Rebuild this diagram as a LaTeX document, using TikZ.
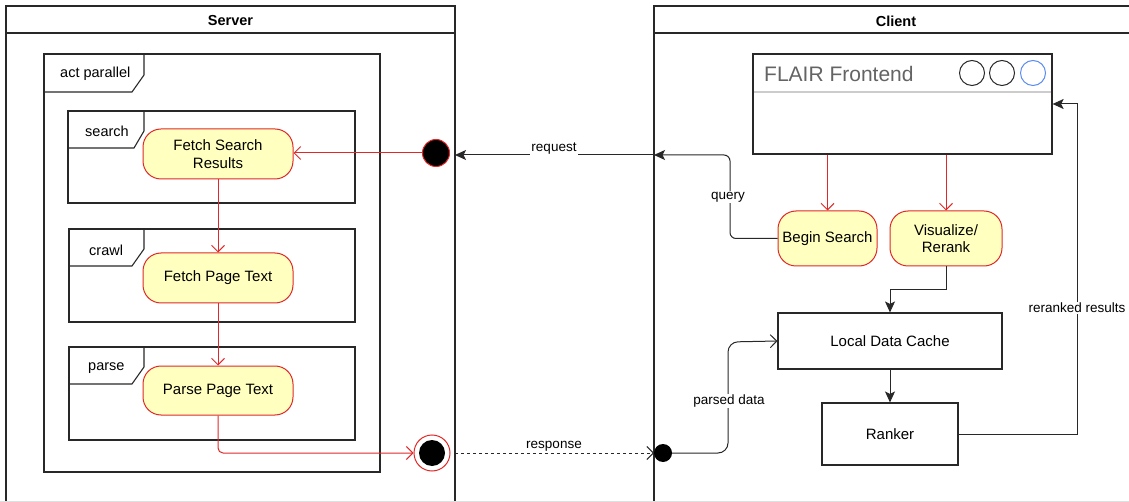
\documentclass[tikz,border=0pt]{standalone}
\usepackage{fontspec}
\setmainfont{Liberation Sans}
\usetikzlibrary{arrows.meta}
\definecolor{actred}{RGB}{224,40,40}
\definecolor{actfill}{RGB}{255,255,192}
\definecolor{linegray}{RGB}{40,40,40}
\definecolor{wingray}{RGB}{100,100,100}
\definecolor{winblue}{RGB}{90,140,240}
\tikzset{
  pool/.style={draw=linegray, line width=1.2pt},
  frame/.style={draw=linegray, line width=1.1pt},
  action/.style={draw=actred, fill=actfill, line width=1pt, rounded corners=18pt, align=center, font=\fontsize{15}{17.5}\selectfont, inner sep=0pt},
  box/.style={draw=linegray, line width=1.1pt, font=\fontsize{15}{17}\selectfont, inner sep=0pt},
  lbl/.style={font=\fontsize{13.5}{15}\selectfont, fill=white, inner sep=1pt},
  tablbl/.style={font=\fontsize{14.5}{16}\selectfont, anchor=west, inner sep=0pt},
  redflow/.style={draw=actred, line width=1pt, -{Straight Barb[length=6.5pt,width=13pt]}},
  openflow/.style={draw=linegray, line width=1pt, -{Straight Barb[length=6.5pt,width=13pt]}},
  solidflow/.style={draw=linegray, line width=1pt, -{Stealth[length=11pt,width=10pt,inset=2.5pt]}},
}
\begin{document}
\begin{tikzpicture}[x=1pt,y=-1pt]
\useasboundingbox (0,0) rectangle (1129,502);
\fill[white] (0,0) rectangle (1129,502);
% pools
\draw[pool] (6,505) -- (6,6) -- (455,6) -- (455,505);
\draw[pool] (6,33) -- (455,33);
\node[font=\bfseries\fontsize{14.5}{16}\selectfont] (srvT) at (230.5,21) {Server};
\draw[pool] (654,505) -- (654,6) -- (1135,6);
\draw[pool] (654,33) -- (1135,33);
\node[font=\bfseries\fontsize{14.5}{16}\selectfont] (cliT) at (896,21) {Client};
\draw[gray!25, line width=0.8pt] (0,501.5) -- (1129,501.5);
% act parallel frame
\draw[frame] (44,54) rectangle (380,472);
\draw[frame] (144,54) -- (144,75) -- (132,92) -- (44,92);
\node[tablbl] (tact) at (60,74) {act parallel};
% search frame
\draw[frame] (68,111) rectangle (355,203);
\draw[frame] (144,111) -- (144,131) -- (134,148) -- (68,148);
\node[tablbl] (tsearch) at (85,131) {search};
% crawl frame
\draw[frame] (69,229) rectangle (355,322);
\draw[frame] (144,229) -- (144,249) -- (132,266) -- (69,266);
\node[tablbl] (tcrawl) at (89,250) {crawl};
% parse frame
\draw[frame] (69,347) rectangle (355,440);
\draw[frame] (144,347) -- (144,367) -- (132,384) -- (69,384);
\node[tablbl] (tparse) at (88,368) {parse};
% actions
\node[action, minimum width=150pt, minimum height=50pt] (fsr) at (218,154) {Fetch Search\\Results};
\node[action, minimum width=150pt, minimum height=50pt] (fpt) at (218,278) {Fetch Page Text};
\node[action, minimum width=150pt, minimum height=49pt] (ppt) at (218,390.5) {Parse Page Text};
% start / end
\node[circle, draw=actred, fill=black, line width=1pt, minimum size=27pt, inner sep=0pt] (start) at (436,153) {};
\node[circle, draw=actred, fill=white, line width=1pt, minimum size=36pt, inner sep=0pt] (fin) at (432,453) {};
\fill[black] (fin.center) circle (13pt);
\coordinate (srvReq) at (455,155);
\coordinate (cliReq) at (654,155);
\coordinate (srvResp) at (455,453);
\coordinate (cliResp) at (654,453);
% server flows
\draw[redflow] (start) -- (fsr.east |- start);
\draw[redflow] (fsr) -- (fpt);
\draw[redflow] (fpt) -- (ppt);
\draw[redflow, rounded corners=5pt] (ppt.south) -- (218,453) -- (fin.west);
% client
\node[draw=linegray, line width=1.2pt, minimum width=299pt, minimum height=100pt, inner sep=0pt] (fe) at (902.5,104) {};
\draw[gray!40, line width=1.3pt] (754,92) -- (1051,92);
\node[anchor=west, text=wingray, font=\fontsize{21}{24}\selectfont, inner sep=0pt] (feT) at (764,74) {FLAIR Frontend};
\draw[linegray, line width=1pt] (972,73) circle (12.5pt);
\draw[linegray, line width=1pt] (1002,73) circle (12.5pt);
\draw[winblue, line width=1pt] (1033,73) circle (12.5pt);
\node[action, minimum width=99pt, minimum height=55pt] (bs) at (827.5,238.5) {Begin Search};
\node[action, minimum width=112pt, minimum height=55pt] (vr) at (946,238.5) {Visualize/\\Rerank};
\node[box, minimum width=224pt, minimum height=56pt] (ldc) at (890,341) {Local Data Cache};
\node[box, minimum width=136pt, minimum height=62pt] (rk) at (890,434) {Ranker};
\node[circle, fill=black, minimum size=18pt, inner sep=0pt] (dot) at (663,453) {};
% client flows
\draw[redflow] (fe.south -| bs.north) -- (bs.north);
\draw[redflow] (fe.south -| vr.north) -- (vr.north);
\draw[solidflow, rounded corners=6pt] (bs.west) -- (730,238.5) -- (730,155) -- (cliReq);
\node[lbl] (lq) at (728,197) {query};
\draw[solidflow] (cliReq) -- (srvReq);
\node[lbl] (lreq) at (554,149) {request};
\draw[openflow, dashed, dash pattern=on 3pt off 3pt] (srvResp) -- (cliResp);
\node[lbl] (lresp) at (554,446) {response};
\draw[openflow, rounded corners=10pt] (dot.east) -- (728,453) -- (728,342) -- (ldc.west);
\node[lbl] (lpd) at (729,401) {parsed data};
\draw[solidflow] (vr.south) -- (946,290) -- (890,290) -- (ldc.north);
\draw[solidflow] (ldc) -- (rk);
\draw[solidflow] (rk.east) -- (1077,434) -- (1077,104) -- (fe.east);
\node[lbl] (lrr) at (1077,308) {reranked results};
\end{tikzpicture}
\end{document}
